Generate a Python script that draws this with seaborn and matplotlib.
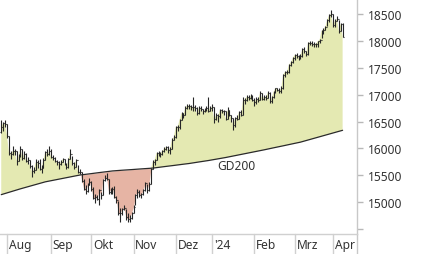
import matplotlib
matplotlib.use('Agg')
import matplotlib.pyplot as plt
import matplotlib.transforms as mtransforms
import seaborn as sns
import pandas as pd
import numpy as np

# ---- data (DAX daily bars, Jul 27 2023 .. Apr 9 2024, trading-day index) ----
month_labels = ['Aug', 'Sep', 'Okt', 'Nov', 'Dez', "'24", 'Feb', 'Mrz', 'Apr']
month_start = [3, 26, 47, 69, 91, 110, 132, 153, 173]
y_ticks = [14500, 15000, 15500, 16000, 16500, 17000, 17500, 18000, 18500]
y_tick_labels = ['', '15000', '15500', '16000', '16500', '17000', '17500', '18000', '18500']

closes = [
    16406, 16469, 16447,
    16240, 15921, 15893, 15952, 15950, 15775, 15853, 15997, 15832, 15904, 15767, 15789,
    15676, 15574, 15603, 15745, 15729, 15622, 15632, 15792, 15930, 15892, 15947,
    15840, 15825, 15772, 15741, 15718, 15740, 15800, 15715, 15654, 15806, 15893, 15727,
    15664, 15782, 15572, 15557, 15405, 15255, 15218, 15323, 15387,
    15247, 15085, 15099, 15070, 15229, 15128, 15424, 15460, 15425, 15186, 15237, 15251,
    15094, 15045, 14798, 14800, 14879, 14892, 14731, 14687, 14716, 14810,
    14923, 15143, 15189, 15136, 15153, 15229, 15353, 15234, 15345, 15615, 15748, 15786,
    15919, 15901, 15900, 15958, 15995, 16029, 15967, 15992, 16166, 16215,
    16397, 16405, 16533, 16656, 16629, 16759, 16794, 16792, 16766, 16767, 16751, 16650,
    16744, 16733, 16687, 16706, 16742, 16701, 16752,
    16769, 16538, 16617, 16594, 16716, 16688, 16689, 16547, 16705, 16622, 16572, 16432,
    16568, 16555, 16683, 16627, 16890, 16907, 16961, 16941, 16972, 16904,
    16859, 16918, 16904, 17033, 16922, 16964, 16927, 17037, 16880, 16946, 17046, 17117,
    17092, 17068, 17118, 17370, 17419, 17424, 17556, 17601, 17678,
    17735, 17716, 17698, 17716, 17842, 17815, 17746, 17965, 17961, 17942, 17936, 17933,
    17987, 18015, 18180, 18206, 18261, 18384, 18477, 18492,
    18283, 18367, 18403, 18175, 18318, 18077,
]
highs = [
    16530, 16500, 16520,
    16460, 16230, 15960, 16040, 15990, 15950, 15900, 16040, 15990, 15950, 15920, 15850,
    15790, 15690, 15660, 15800, 15780, 15800, 15690, 15820, 15950, 15990, 16040,
    15990, 15880, 15850, 15790, 15760, 15790, 15830, 15810, 15730, 15820, 15990, 15860,
    15740, 15800, 15700, 15620, 15560, 15430, 15330, 15350, 15450,
    15400, 15290, 15150, 15140, 15240, 15200, 15440, 15500, 15540, 15440, 15270, 15290,
    15300, 15110, 15020, 14890, 14900, 14950, 14880, 14800, 14760, 14830,
    14960, 15160, 15250, 15230, 15180, 15250, 15380, 15340, 15380, 15640, 15790, 15810,
    15940, 15960, 15930, 15980, 16020, 16050, 16040, 16020, 16200, 16250,
    16420, 16440, 16550, 16680, 16660, 16780, 16830, 16820, 16800, 16960, 16800, 16760,
    16780, 16790, 16730, 16750, 16780, 16950, 16790,
    16830, 16770, 16660, 16640, 16740, 16740, 16720, 16700, 16760, 16720, 16620, 16560,
    16590, 16630, 16700, 16720, 16950, 16940, 17000, 16990, 17010, 17000,
    16930, 16960, 16960, 17060, 17030, 17000, 16990, 17060, 17050, 16980, 17070, 17130,
    17130, 17120, 17150, 17390, 17430, 17450, 17570, 17630, 17700,
    17760, 17780, 17740, 17750, 17860, 17890, 17800, 17980, 17990, 18000, 17970, 17960,
    18000, 18030, 18200, 18240, 18280, 18410, 18490, 18570,
    18500, 18400, 18460, 18380, 18330, 18320,
]
lows = [
    16290, 16330, 16400,
    16200, 15880, 15810, 15870, 15880, 15700, 15760, 15850, 15790, 15800, 15740, 15720,
    15640, 15470, 15540, 15600, 15640, 15600, 15540, 15630, 15780, 15860, 15880,
    15820, 15790, 15740, 15700, 15620, 15690, 15740, 15690, 15620, 15640, 15800, 15700,
    15620, 15660, 15540, 15530, 15380, 15230, 15160, 15200, 15320,
    15220, 15060, 14980, 15040, 14960, 15060, 15130, 15400, 15410, 15160, 15150, 15150,
    15080, 14980, 14760, 14630, 14760, 14850, 14680, 14630, 14630, 14690,
    14800, 14950, 15090, 15100, 15080, 15130, 15220, 15180, 15210, 15340, 15610, 15700,
    15780, 15860, 15840, 15880, 15930, 15970, 15920, 15900, 15990, 16150,
    16200, 16330, 16370, 16530, 16570, 16620, 16740, 16740, 16720, 16700, 16700, 16620,
    16640, 16690, 16640, 16670, 16700, 16680, 16700,
    16700, 16480, 16530, 16500, 16560, 16650, 16620, 16520, 16540, 16600, 16500, 16340,
    16400, 16520, 16550, 16600, 16630, 16830, 16880, 16900, 16920, 16880,
    16780, 16820, 16860, 16900, 16900, 16900, 16900, 16930, 16850, 16840, 16930, 17020,
    17060, 17020, 17030, 17100, 17330, 17380, 17400, 17530, 17580,
    17650, 17680, 17650, 17660, 17700, 17780, 17710, 17740, 17920, 17900, 17880, 17890,
    17880, 17950, 18050, 18130, 18190, 18270, 18350, 18440,
    18250, 18250, 18360, 18150, 18180, 18060,
]
# index opens are taken as the previous session's close
first_open = 16300
gd200 = [
    15143, 15154, 15165, 15176, 15187, 15198, 15209, 15220, 15231, 15241, 15251, 15261,
    15271, 15281, 15291, 15301, 15311, 15321, 15331, 15341, 15351, 15361, 15371, 15381,
    15388, 15395, 15402, 15409, 15416, 15423, 15430, 15437, 15444, 15451, 15458, 15465,
    15472, 15479, 15486, 15493, 15500, 15507,
    15511, 15516, 15520, 15525, 15529, 15534, 15538, 15543, 15547, 15552, 15556, 15561,
    15565, 15570, 15574, 15579, 15583,
    15586, 15588, 15591, 15593, 15596, 15598, 15601, 15603, 15606, 15608, 15611, 15613,
    15616, 15618, 15621, 15623, 15626, 15628, 15631, 15633, 15636,
    15640, 15645, 15649, 15654, 15658, 15663, 15667, 15672, 15676, 15681, 15685, 15690,
    15694, 15699, 15703, 15708, 15712, 15717, 15721,
    15727, 15732, 15738, 15743, 15749, 15754, 15760, 15765, 15771, 15776, 15782, 15787,
    15793, 15798, 15804,
    15811, 15818, 15825, 15832, 15839, 15846, 15853, 15860, 15867, 15874, 15881, 15888,
    15895, 15902, 15909, 15916, 15923, 15930, 15937, 15944,
    15952, 15959, 15967, 15974, 15982, 15989, 15997, 16004, 16012, 16019, 16027, 16034,
    16042, 16049, 16057, 16064, 16072, 16079, 16087, 16094, 16102, 16109, 16117,
    16127, 16137, 16147, 16157, 16167, 16177, 16187, 16197, 16207, 16217, 16227, 16237,
    16247, 16257, 16267, 16277, 16287, 16297, 16307, 16317, 16327, 16337,
]
ma_label = 'GD200'

# ---- figure ----
sns.set_theme(style='white')
plt.rcParams['font.family'] = ['Noto Sans', 'DejaVu Sans']

W, H = 426, 255
fig = plt.figure(figsize=(W / 100, H / 100), dpi=100)
fig.patch.set_facecolor('white')
ax_w, ax_h = 357, 235
ax = fig.add_axes([0, (H - ax_h) / H, ax_w / W, ax_h / H])
ax.set_facecolor('white')

x = np.arange(len(closes))
opens = [first_open] + closes[:-1]
df = pd.DataFrame({'x': x, 'open': opens, 'high': highs, 'low': lows,
                   'close': closes, 'gd200': gd200})
c = df['close'].to_numpy(float)
g = df['gd200'].to_numpy(float)

ax.fill_between(x, c, g, where=c >= g, interpolate=True, color='#e4e9b2', lw=0, zorder=1)
ax.fill_between(x, c, g, where=c < g, interpolate=True, color='#e6b4a4', lw=0, zorder=1)
sns.lineplot(data=df, x='x', y='gd200', color='#2a2a2a', lw=0.9, ax=ax, zorder=3)

bar_col = '#262626'
ax.vlines(df['x'], df['low'], df['high'], color=bar_col, lw=0.8, zorder=4)
ax.hlines(df['open'], df['x'] - 0.5, df['x'], color=bar_col, lw=0.8, zorder=4)
ax.hlines(df['close'], df['x'], df['x'] + 0.5, color=bar_col, lw=0.8, zorder=4)

ax.text(122.5, 15680, ma_label, ha='center', va='center', fontsize=8.6, color='#333333')

ax.set_xlim(-0.65, 185.5)
ax.set_ylim(14413, 18773)
ax.set_xlabel('')
ax.set_ylabel('')
ax.set_xticks([])

ax.yaxis.tick_right()
ax.set_yticks(y_ticks)
ax.set_yticklabels(y_tick_labels)
ax.tick_params(axis='y', which='both', right=True, left=False, direction='out',
               length=4, width=1, color='#b8b8b8', labelsize=8.6,
               labelcolor='#333333', pad=4)

for side in ['left', 'top']:
    ax.spines[side].set_visible(False)
ax.spines['right'].set_color('#c8c8c8')
ax.spines['right'].set_linewidth(1.0)
ax.spines['bottom'].set_color('#d0d0d0')
ax.spines['bottom'].set_linewidth(1.0)

trans = mtransforms.blended_transform_factory(ax.transData, ax.transAxes)
row = (H - ax_h) / ax_h
# right axis line continues through the month row
ax.plot([1, 1], [0, -row], transform=ax.transAxes, color='#c8c8c8', lw=1.0, clip_on=False)
for j, lab in zip(month_start, month_labels):
    ax.plot([j, j], [0, -row], transform=trans, color='#d0d0d0', lw=1.0, clip_on=False)
    ax.text(j + 0.9, -row * 0.55, lab, transform=trans, ha='left', va='center',
            fontsize=8.6, color='#333333', clip_on=False)

fig.savefig('out.png', dpi=100, facecolor='white')
